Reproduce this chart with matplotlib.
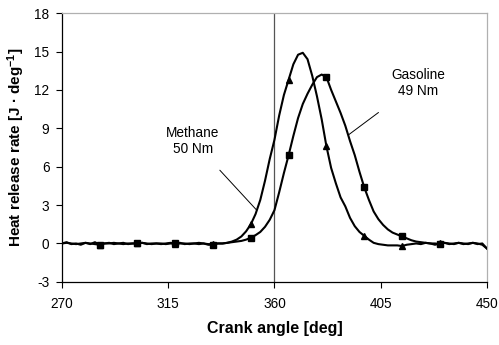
import matplotlib
matplotlib.use("Agg")
import matplotlib.pyplot as plt
import numpy as np

plt.rcParams['font.family'] = ['Liberation Sans', 'DejaVu Sans']
plt.rcParams['mathtext.fontset'] = 'custom'
plt.rcParams['mathtext.rm'] = 'Liberation Sans'
plt.rcParams['mathtext.bf'] = 'Liberation Sans:bold'
plt.rcParams['mathtext.default'] = 'bf'
plt.rcParams['axes.unicode_minus'] = False

# Crank angle, 2-degree steps from 270 to 450
crank_angle = list(range(270, 452, 2))

methane = [
    0.0, 0.1, -0.05, 0.0, -0.1, 0.05, -0.05, 0.1, -0.1, 0.0,      # 270-288
    0.05, -0.05, 0.0, 0.05, -0.05, 0.0, 0.0, 0.05, -0.05, 0.0,    # 290-308
    0.0, -0.05, 0.0, 0.05, -0.05, 0.0, 0.0, -0.05, 0.0, 0.05,     # 310-328
    0.0, -0.05, -0.05, 0.0, 0.0, 0.05, 0.15, 0.3, 0.55, 0.95,     # 330-348
    1.5, 2.3, 3.4, 4.9, 6.6, 8.1, 10.0, 11.6, 12.8, 14.0,         # 350-368
    14.75, 14.9, 14.4, 13.1, 11.5, 9.7, 7.6, 5.9, 4.7, 3.6,       # 370-388
    2.9, 2.0, 1.35, 0.9, 0.6, 0.3, 0.05, -0.05, -0.1, -0.15,      # 390-408
    -0.15, -0.15, -0.2, -0.1, -0.05, 0.0, -0.05, 0.05, 0.0, -0.1, # 410-428
    0.0, 0.05, 0.0, -0.05, 0.05, 0.0, -0.05, 0.05, 0.0, -0.1,     # 430-448
    -0.4,                                                          # 450
]

gasoline = [
    0.0, 0.05, 0.0, -0.05, 0.0, 0.05, 0.0, -0.05, -0.1, 0.0,      # 270-288
    0.0, 0.05, 0.0, -0.05, 0.0, 0.0, 0.0, 0.05, 0.0, -0.05,       # 290-308
    0.0, 0.0, -0.05, 0.0, 0.0, 0.05, -0.05, 0.0, 0.0, -0.05,      # 310-328
    0.0, -0.1, -0.1, 0.0, 0.0, 0.05, 0.1, 0.15, 0.2, 0.3,         # 330-348
    0.45, 0.65, 0.9, 1.3, 1.85, 2.6, 4.0, 5.5, 6.9, 8.4,          # 350-368
    9.8, 10.9, 11.7, 12.4, 13.0, 13.2, 13.0, 12.0, 11.1, 10.2,    # 370-388
    9.2, 8.0, 6.9, 5.6, 4.4, 3.4, 2.5, 1.9, 1.45, 1.1,            # 390-408
    0.85, 0.7, 0.55, 0.4, 0.25, 0.15, 0.1, 0.05, 0.0, 0.0,        # 410-428
    -0.05, 0.05, -0.05, 0.0, 0.05, -0.05, 0.0, 0.05, -0.05, 0.0,  # 430-448
    -0.4,                                                          # 450
]

x_ticks = [270, 315, 360, 405, 450]
y_ticks = [-3, 0, 3, 6, 9, 12, 15, 18]

fig = plt.figure(figsize=(4.99, 3.45), dpi=100)
ax = fig.add_axes([0.124, 0.183, 0.852, 0.779])

marks = slice(8, 81, 8)
ax.plot(crank_angle, methane, color='black', lw=1.5, marker='^', ms=5,
        markevery=marks, zorder=3)
ax.plot(crank_angle, gasoline, color='black', lw=1.5, marker='s', ms=4.5,
        markevery=marks, zorder=3)

ax.axvline(360, color='#555555', lw=0.9, zorder=1)

ax.set_xlim(270, 450)
ax.set_ylim(-3, 18)
ax.set_xticks(x_ticks)
ax.set_yticks(y_ticks)
ax.tick_params(direction='out', length=4, width=0.8, labelsize=9.8, pad=5)
ax.tick_params(axis='x', pad=7)

for s in ['left', 'bottom']:
    ax.spines[s].set_color('black')
    ax.spines[s].set_linewidth(0.9)
for s in ['top', 'right']:
    ax.spines[s].set_color('#b0b0b0')
    ax.spines[s].set_linewidth(0.9)

ax.set_xlabel('Crank angle [deg]', fontsize=11.5, fontweight='bold', labelpad=7)
ax.set_ylabel(r'Heat release rate [J · deg$^{-1}$]', fontsize=11,
              fontweight='bold', labelpad=5)

ax.annotate('Methane\n50 Nm', xy=(352.5, 2.6), xytext=(325.5, 8.0),
            ha='center', va='center', fontsize=9.8,
            arrowprops=dict(arrowstyle='-', color='black', lw=0.7,
                            shrinkA=11, shrinkB=0))
ax.annotate('Gasoline\n49 Nm', xy=(391.3, 8.48), xytext=(420.8, 12.54),
            ha='center', va='center', fontsize=9.8,
            arrowprops=dict(arrowstyle='-', color='black', lw=0.7,
                            shrinkA=14, shrinkB=0))

fig.savefig('out.png', dpi=100)
